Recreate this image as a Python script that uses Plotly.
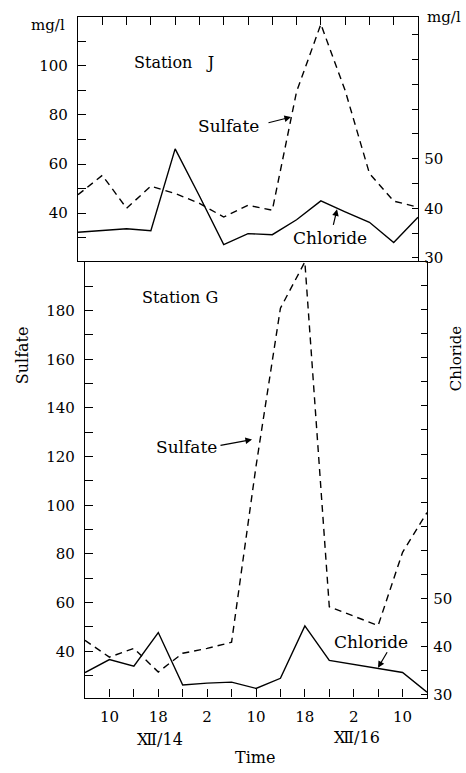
import plotly.graph_objects as go

W, H = 466, 773

# ---------------- data ----------------
hours = [6, 10, 14, 18, 22, 26, 30, 34, 38, 42, 46, 50, 54, 58, 62]

sulfate_J = [47.5, 55.4, 42.0, 51.0, 48.0, 44.0, 38.4, 43.2, 41.2, 89.5, 117.0, 90.0, 56.2, 44.9, 42.4]
chloride_J = [35.2, 35.6, 35.9, 35.5, 52.0, 42.5, 32.7, 34.9, 34.7, 37.7, 41.5, 39.3, 37.2, 33.1, 38.2]

sulfate_G = [44.5, 37.6, 41.2, 31.5, 39.2, 41.2, 43.7, 116.0, 181.0, 200.0, 58.3, 54.6, 50.6, 80.7, 97.0]
chloride_G = [34.6, 37.3, 35.9, 42.9, 32.0, 32.4, 32.6, 31.3, 33.4, 44.3, 37.1, 36.3, 35.5, 34.6, 30.5]

x_tickvals = [10, 14, 18, 22, 26, 30, 34, 38, 42, 46, 50, 54, 58]
x_ticktext = ["10", "", "18", "", "2", "", "10", "", "18", "", "2", "", "10"]

yJ_tickvals = [30, 40, 50, 60, 70, 80, 90, 100, 110]
yJ_ticktext = ["", "40", "", "60", "", "80", "", "100", ""]
yG_tickvals = [30, 40, 50, 60, 70, 80, 90, 100, 110, 120, 130, 140, 150, 160, 170, 180, 190]
yG_ticktext = ["", "40", "", "60", "", "80", "", "100", "", "120", "", "140", "", "160", "", "180", ""]

rJ_tickvals = [30, 35, 40, 45, 50, 55, 60, 65, 70, 75]
rJ_ticktext = ["30", "", "40", "", "50", "", "", "", "", ""]
rG_tickvals = [30, 35, 40, 45, 50, 55, 60, 65, 70, 75, 80, 85, 90, 95, 100, 105, 110, 115]
rG_ticktext = ["30", "", "40", "", "50", "", "", "", "", "", "", "", "", "", "", "", "", ""]


def fx(px):
    return px / W


def fy(py):
    return 1 - py / H


FONT = "DejaVu Serif"
LW = 1.4

fig = go.Figure()

dash = "7px,5px"
fig.add_trace(go.Scatter(x=hours, y=sulfate_J, xaxis="x", yaxis="y", mode="lines",
                         line=dict(color="black", width=LW, dash=dash), showlegend=False))
fig.add_trace(go.Scatter(x=hours, y=chloride_J, xaxis="x", yaxis="y2", mode="lines",
                         line=dict(color="black", width=LW), showlegend=False))
fig.add_trace(go.Scatter(x=hours, y=sulfate_G, xaxis="x2", yaxis="y3", mode="lines",
                         line=dict(color="black", width=LW, dash=dash), showlegend=False))
fig.add_trace(go.Scatter(x=hours, y=chloride_G, xaxis="x2", yaxis="y4", mode="lines",
                         line=dict(color="black", width=LW), showlegend=False))

tickfont = dict(family=FONT, size=15, color="black")
common = dict(showline=True, linecolor="black", linewidth=LW, ticks="inside",
              tickcolor="black", tickwidth=LW, ticklen=8, showgrid=False,
              zeroline=False, tickfont=tickfont, fixedrange=True)

fig.update_layout(
    width=W, height=H,
    margin=dict(l=0, r=0, t=0, b=0),
    paper_bgcolor="white", plot_bgcolor="white",
    xaxis=dict(domain=[fx(78), fx(418)], anchor="y", range=[6, 62], side="top",
               tickvals=x_tickvals, showticklabels=False, mirror=True, **common),
    yaxis=dict(domain=[fy(263), fy(17)], anchor="x", range=[20.5, 120], side="left",
               tickvals=yJ_tickvals, ticktext=yJ_ticktext, ticklabelstandoff=6, **common),
    yaxis2=dict(anchor="x", overlaying="y", range=[29.4, 78.6], side="right",
                tickvals=rJ_tickvals, ticktext=rJ_ticktext, ticklabelstandoff=2,
                **{**common, "ticklen": 6}),
    xaxis2=dict(domain=[fx(85), fx(427)], anchor="y3", range=[6, 62], side="bottom",
                tickvals=x_tickvals, ticktext=x_ticktext, mirror=True, ticklabelstandoff=5, **common),
    yaxis3=dict(domain=[fy(703), fy(264)], anchor="x2", range=[21, 200], side="left",
                tickvals=yG_tickvals, ticktext=yG_ticktext, ticklabelstandoff=6, **common),
    yaxis4=dict(anchor="x2", overlaying="y3", range=[29.4, 119.9], side="right",
                tickvals=rG_tickvals, ticktext=rG_ticktext, ticklabelstandoff=2,
                **{**common, "ticklen": 6}),
)

anns = []


def text(px, py, t, size=15, angle=0):
    anns.append(dict(x=fx(px), y=fy(py), xref="paper", yref="paper", text=t,
                     showarrow=False, xanchor="center", yanchor="middle", textangle=angle,
                     font=dict(family=FONT, size=size, color="black")))


def arrow(tail, tip):
    anns.append(dict(x=fx(tip[0]), y=fy(tip[1]), xref="paper", yref="paper", text="",
                     showarrow=True, ax=tail[0] - tip[0], ay=tail[1] - tip[1],
                     arrowhead=2, arrowsize=1.1, arrowwidth=1.2, arrowcolor="black",
                     standoff=0, startstandoff=0))


text(174, 63, "Station\u00a0\u00a0\u00a0J", 16)
text(180, 300, "Station G", 16)
text(228, 127, "Sulfate", 17)
text(330, 240, "Chloride", 17)
text(186, 451, "Sulfate", 17)
text(371, 647, "Chloride", 17)
text(48, 25, "mg/l", 15)
text(444, 17, "mg/l", 15)
text(22, 358, "Sulfate", 16, -90)
text(456, 361, "Chloride", 15, -90)
text(160, 745, "\u216B/14", 16)
text(357, 743, "\u216B/16", 16)
text(255, 763, "Time", 16)

arrow((267, 124), (291, 118))
arrow((333, 228), (337, 211))
arrow((219, 449), (252, 443))
arrow((388, 656), (378, 673))

fig.update_layout(annotations=anns)

fig.write_html("out.html")
